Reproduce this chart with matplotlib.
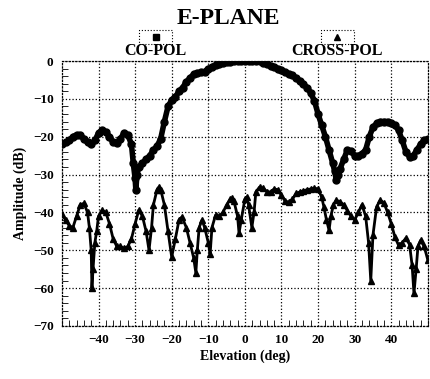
import matplotlib
matplotlib.use("Agg")
import matplotlib.pyplot as plt
import matplotlib.patches as patches
from matplotlib.ticker import MultipleLocator

# E-plane pattern
co_elev = [-50, -49, -48, -47, -46, -45, -44, -43, -42, -41, -40, -39, -38, -37, -36,
           -35, -34, -33, -32, -31, -30.5, -30, -29.8, -29.5, -29, -28, -27, -26, -25,
           -24, -23, -22, -21, -20, -19, -18, -17, -16, -15, -14, -13, -12, -11, -10,
           -9, -8, -7, -6, -5, -4, -3, -2, -1, 0, 1, 2, 3, 4, 5, 6, 7, 8, 9, 10, 11,
           12, 13, 14, 15, 16, 17, 18, 19, 20, 21, 22, 23, 24, 24.5, 25, 25.5, 26, 27,
           28, 29, 30, 31, 32, 33, 34, 35, 36, 37, 38, 39, 40, 41, 42, 43, 44, 45, 46,
           47, 48, 49, 50]
co_amp = [-22, -21.5, -21, -20, -19.5, -19.6, -20.5, -21.5, -22, -21, -19, -18.3, -18.8,
          -20, -21.5, -21.7, -20.5, -19, -19.5, -22, -27, -31, -34, -30, -28, -27, -26,
          -25, -23.5, -22.5, -20.5, -16, -12, -10.3, -9.5, -8, -7, -5.5, -4.5, -3.5,
          -3.2, -3, -2.8, -2, -1.5, -1, -0.8, -0.5, -0.3, -0.2, -0.1, 0, 0, 0, 0, 0, 0,
          -0.1, -0.4, -0.8, -1.2, -1.6, -2, -2.5, -3, -3.5, -3.8, -4.5, -5.3, -6.2, -7,
          -8.5, -10.5, -14, -17, -20, -23.5, -27, -29, -31.5, -30, -28.5, -26, -23.5,
          -23.8, -25, -25, -24.5, -23.5, -20, -17.5, -16.5, -16, -16, -16, -16.5, -17,
          -18.3, -21, -24, -25.3, -25, -23.5, -22, -21, -20.5]

x_elev = [-50, -49, -48, -47, -46, -45, -44, -43, -42.5, -42, -41.8, -41.5, -41, -40.5,
          -40, -39, -38, -37, -36, -35, -34, -33, -32, -31, -30, -29, -28, -27, -26.2,
          -25.5, -25, -24, -23.5, -23, -22, -21, -20, -19, -18, -17.2, -16, -15, -14,
          -13.4, -13, -12.5, -11.7, -11, -10, -9.5, -9, -8, -7, -6, -5, -4, -3.5, -3,
          -2, -1.6, -1, 0, 0.5, 1, 1.9, 2.5, 3, 4, 5, 6, 7, 8, 9, 10, 11, 12, 13, 14,
          15, 16, 17, 18, 19, 20, 21, 21.6, 22.3, 23, 23.5, 24.2, 25, 26, 27, 28, 29,
          30, 31, 32, 33, 33.8, 34.4, 35, 36, 37, 38, 39, 40, 41, 42, 43, 44, 45, 45.7,
          46.2, 46.8, 47.3, 48, 49, 50]
x_amp = [-40.5, -42, -43.5, -44, -41, -38, -37.6, -40, -44, -50, -60, -55, -48, -45,
         -41, -39.4, -40, -43, -47, -49, -49, -49.5, -49, -47, -43, -39.4, -41, -45,
         -50, -44, -38, -34, -33.3, -34, -38, -45, -51.8, -47, -42, -41.2, -44, -48,
         -52, -56, -50, -44, -42, -44, -48, -51, -44, -40.7, -41, -40, -38, -36.5,
         -36.2, -37, -41, -45.5, -42, -36.5, -36, -38, -44, -40, -34.6, -33.3, -33.6,
         -34.5, -34.6, -33.8, -34, -35.5, -37, -37.3, -36.5, -35, -34.6, -34.3, -34,
         -33.8, -33.6, -33.8, -36, -38.6, -42, -44.7, -41, -38, -36.8, -37.2, -38,
         -39.5, -41, -42, -40, -38, -41, -48, -58, -46, -38.5, -36.8, -37.5, -40, -43,
         -46.5, -48.7, -48, -46.8, -48.5, -54, -61.4, -55, -49, -47.4, -49, -52.6]

FONT = "Liberation Serif"

fig = plt.figure(figsize=(4.3, 3.79), dpi=100)
ax = fig.add_axes([0.144, 0.140, 0.851, 0.699])

# heavy traces built from dense markers
ax.plot(co_elev, co_amp, color="black", lw=4.0, solid_capstyle="round", marker="o",
        ms=5, zorder=3)
ax.plot(x_elev, x_amp, color="black", lw=2.0, solid_capstyle="round", marker="^",
        ms=5, zorder=3)

ax.set_xlim(-50, 50)
ax.set_ylim(-70, 0)
ax.set_xticks([-40, -30, -20, -10, 0, 10, 20, 30, 40])
ax.set_yticks([0, -10, -20, -30, -40, -50, -60, -70])
ax.xaxis.set_minor_locator(MultipleLocator(2))
ax.yaxis.set_minor_locator(MultipleLocator(2))
ax.tick_params(which="both", direction="in", top=False, right=False)
ax.tick_params(which="major", length=0, pad=6)
ax.tick_params(which="minor", length=4, width=0.6)
ax.grid(True, which="major", color="black", ls=":", lw=0.9)
for s in ax.spines.values():
    s.set_linestyle(":")
    s.set_linewidth(0.9)

for lab in ax.get_xticklabels() + ax.get_yticklabels():
    lab.set_fontfamily(FONT)
    lab.set_fontweight("bold")
    lab.set_fontsize(9.5)

ax.set_xlabel("Elevation (deg)", fontfamily=FONT, fontweight="bold", fontsize=10, labelpad=2)
ax.set_ylabel("Amplitude (dB)", fontfamily=FONT, fontweight="bold", fontsize=10, labelpad=4)

fig.text(0.53, 0.952, "E-PLANE", ha="center", va="center", fontfamily=FONT,
         fontweight="bold", fontsize=17)

# legend boxes above the plot
for cx, mk, label in [(0.256, "s", "CO-POL"), (0.752, "^", "CROSS-POL")]:
    ax.add_patch(patches.Rectangle((cx - 0.045, 1.064), 0.09, 0.053, transform=ax.transAxes,
                                   fill=False, ls=":", lw=0.8, clip_on=False))
    ax.plot([cx], [1.09], marker=mk, ms=5, color="black", transform=ax.transAxes,
            clip_on=False)
    ax.text(cx, 1.036, label, ha="center", va="center", transform=ax.transAxes,
            fontfamily=FONT, fontweight="bold", fontsize=11.5)

fig.savefig("out.png", dpi=100)
